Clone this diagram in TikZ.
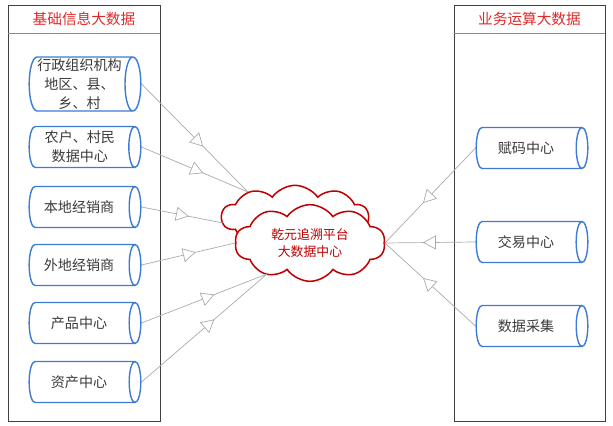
\documentclass[tikz,border=0pt]{standalone}
\usepackage{fontspec}
\setmainfont{Noto Sans CJK SC}
\usetikzlibrary{shapes.geometric,shapes.symbols,arrows.meta,decorations.markings}
\definecolor{cylblue}{HTML}{3C7BD6}
\definecolor{cloudred}{HTML}{C00000}
\definecolor{headred}{HTML}{E02828}
\definecolor{linkgray}{HTML}{ABABAB}
\definecolor{txtgray}{HTML}{3A3A3A}
\tikzset{
  store/.style={cylinder, draw=cylblue, line width=1.2pt, aspect=0.3, anchor=shape center,
    minimum height=3.35cm, minimum width=1.23cm, text=txtgray, align=center,
    inner xsep=0pt, inner ysep=11pt, font=\fontsize{12pt}{16pt}\selectfont},
  puff/.style={cloud, cloud puffs=10, cloud puff arc=110, aspect=2.4, draw=cloudred,
    line width=1.3pt, fill=white, inner sep=0pt},
  panel/.style={draw=black!75, line width=0.6pt},
  rule/.style={draw=black!45, line width=0.6pt},
  head/.style={text=headred, font=\fontsize{12.5pt}{15pt}\selectfont},
  link/.style={draw=linkgray, line width=0.6pt, postaction={decorate},
    decoration={markings, mark=at position 0.58 with
      {\arrow{Triangle[length=11pt,width=12pt,fill=white,line width=0.6pt]}}}}
}
\begin{document}
\begin{tikzpicture}[x=0.03cm,y=-0.03cm]
\useasboundingbox (0,0) rectangle (613,426);
% two panels
\draw[panel] (8,5) rectangle (160,421);
\draw[panel] (454,5) rectangle (605,421);
\draw[rule] (8,33) -- (160,33);
\draw[rule] (454,33) -- (605,33);
\node[head] (lhead) at (84,19) {基础信息大数据};
\node[head] (rhead) at (529.5,19) {业务运算大数据};
% left stores
\node[store, minimum width=1.62cm, inner ysep=1pt] (s1) at (85,84) {行政组织机构\\地区、县、\\乡、村};
\node[store, inner ysep=3.5pt] (s2) at (85,147) {农户、村民\\数据中心};
\node[store] (s3) at (85,207) {本地经销商};
\node[store] (s4) at (85,265) {外地经销商};
\node[store] (s5) at (85,323) {产品中心};
\node[store] (s6) at (85,382) {资产中心};
% right stores
\node[store] (r1) at (532,148) {赋码中心};
\node[store] (r2) at (532,242) {交易中心};
\node[store] (r3) at (532,326) {数据采集};
% cloud
\node[puff, minimum width=4.4cm, minimum height=1.9cm] (cloudb) at (295,217) {};
\node[puff, minimum width=4.5cm, minimum height=2.3cm, text=cloudred, align=center,
  font=\fontsize{11pt}{14.5pt}\selectfont] (cloud) at (310,243) {乾元追溯平台\\大数据中心};
\coordinate (inA) at (248,192);
\coordinate (inB) at (223,223);
\coordinate (inC) at (235,243);
\coordinate (inD) at (267,274);
% links
\draw[link] (s1.east) -- (inA);
\draw[link] (s2.east) -- (inA);
\draw[link] (s3.east) -- (inB);
\draw[link] (s4.east) -- (inC);
\draw[link] (s5.east) -- (inD);
\draw[link] (s6.east) -- (inD);
\draw[link] (r1.west) -- (cloud.east);
\draw[link] (r2.west) -- (cloud.east);
\draw[link] (r3.west) -- (cloud.east);
\end{tikzpicture}
\end{document}
